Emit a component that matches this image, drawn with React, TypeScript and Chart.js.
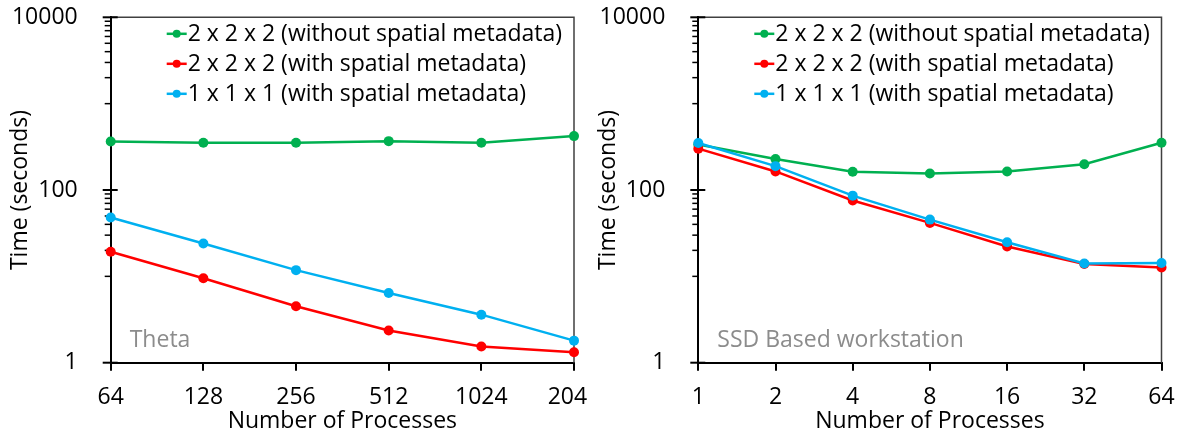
import React, { useEffect, useRef } from 'react';
import { Chart, registerables } from 'chart.js';

Chart.register(...registerables);

const FONT = "'Open Sans', 'Noto Sans', sans-serif";

const seriesLabels = [
  '2 x 2 x 2 (without spatial metadata)',
  '2 x 2 x 2 (with spatial metadata)',
  '1 x 1 x 1 (with spatial metadata)',
];
const seriesColors = ['#00b050', '#ff0000', '#00b0f0'];

// Theta
const thetaProcesses = ['64', '128', '256', '512', '1024', '2048'];
const thetaNoMeta222 = [365, 353, 353, 368, 353, 421];
const thetaMeta222 = [19.3, 9.5, 4.5, 2.36, 1.54, 1.32];
const thetaMeta111 = [48, 24, 11.8, 6.4, 3.6, 1.8];

// SSD based workstation
const ssdProcesses = ['1', '2', '4', '8', '16', '32', '64'];
const ssdNoMeta222 = [337, 228, 163, 155, 164, 199, 353];
const ssdMeta222 = [301, 164, 75.5, 41.6, 22.2, 13.9, 12.7];
const ssdMeta111 = [350, 189, 86, 45.4, 24.8, 14.1, 14.3];

const yMajorTicks = [1, 100, 10000];
const yMinorTicks = [10, 20, 30, 40, 50, 60, 70, 80, 90, 1000, 2000, 3000, 4000, 5000, 6000, 7000, 8000, 9000];

const xTitle = 'Number of Processes';
const yTitle = 'Time (seconds)';

const decorPlugin = {
  id: 'decor',
  beforeDatasetsDraw(chart: any) {
    const { ctx, chartArea: a, scales } = chart;
    const y = scales.y;
    ctx.save();
    ctx.strokeStyle = '#404040';
    ctx.lineWidth = 1.5;
    ctx.beginPath();
    ctx.moveTo(a.left, a.top);
    ctx.lineTo(a.right, a.top);
    ctx.lineTo(a.right, a.bottom);
    ctx.stroke();
    ctx.strokeStyle = '#000';
    ctx.lineWidth = 1.5;
    for (const v of yMinorTicks) {
      const py = y.getPixelForValue(v);
      ctx.beginPath();
      ctx.moveTo(a.left - 6, py);
      ctx.lineTo(a.left, py);
      ctx.stroke();
    }
    ctx.lineWidth = 2;
    for (const v of yMajorTicks) {
      const py = y.getPixelForValue(v);
      ctx.beginPath();
      ctx.moveTo(a.left - 8, py);
      ctx.lineTo(a.left + 7, py);
      ctx.stroke();
    }
    ctx.restore();
  },
  afterDraw(chart: any, _args: any, opts: any) {
    const { ctx, chartArea: a } = chart;
    ctx.save();
    ctx.textBaseline = 'middle';
    ctx.textAlign = 'left';
    ctx.font = `23px ${FONT}`;
    ctx.fillStyle = '#8c8c8c';
    ctx.fillText(opts.note, a.left + 19, a.bottom - 22);
    ctx.font = `23px ${FONT}`;
    chart.data.datasets.forEach((ds: any, i: number) => {
      const ty = a.top + 16.5 + i * 30;
      const tx = a.left + 77;
      ctx.strokeStyle = ds.borderColor;
      ctx.lineWidth = 2.5;
      ctx.beginPath();
      ctx.moveTo(tx - 21, ty);
      ctx.lineTo(tx - 1, ty);
      ctx.stroke();
      ctx.fillStyle = ds.borderColor;
      ctx.beginPath();
      ctx.arc(tx - 11, ty, 4, 0, Math.PI * 2);
      ctx.fill();
      ctx.fillStyle = '#000';
      ctx.fillText(ds.label, tx, ty + 1);
    });
    ctx.restore();
  },
};

function makeDataset(label: string, color: string, data: number[], order: number) {
  return {
    label,
    data,
    borderColor: color,
    backgroundColor: color,
    borderWidth: 2.5,
    pointRadius: 5,
    pointBackgroundColor: color,
    pointBorderColor: color,
    pointBorderWidth: 0,
    tension: 0,
    clip: false as any,
    order,
  };
}

type PanelProps = {
  labels: string[];
  series: number[][];
  note: string;
  left: number;
  width: number;
  yW: number;
  padRight: number;
  z: number;
};

function Panel({ labels, series, note, left, width, yW, padRight, z }: PanelProps) {
  const ref = useRef<HTMLCanvasElement>(null);
  useEffect(() => {
    const chart = new Chart(ref.current as HTMLCanvasElement, {
      type: 'line',
      data: {
        labels,
        datasets: [
          makeDataset(seriesLabels[0], seriesColors[0], series[0], 3),
          makeDataset(seriesLabels[1], seriesColors[1], series[1], 2),
          makeDataset(seriesLabels[2], seriesColors[2], series[2], 1),
        ],
      },
      options: {
        responsive: false,
        animation: false,
        devicePixelRatio: 1,
        layout: { padding: { left: 0, top: 17.3, right: padRight, bottom: 0 } },
        plugins: {
          legend: { display: false },
          tooltip: { enabled: false },
          decor: { note },
        } as any,
        scales: {
          x: {
            type: 'category',
            offset: false,
            grid: {
              display: true,
              drawOnChartArea: false,
              drawTicks: true,
              tickLength: 8,
              color: '#000',
              lineWidth: 2,
            },
            border: { display: true, color: '#000', width: 2 },
            ticks: {
              font: { family: FONT, size: 23 },
              color: '#000',
              padding: 13,
              maxRotation: 0,
              autoSkip: false,
            },
            title: {
              display: true,
              text: xTitle,
              font: { family: FONT, size: 23 },
              color: '#000',
              padding: { top: 0, bottom: 1 },
            },
            afterFit: (s: any) => {
              s.height = 73.3;
              s.paddingLeft = 0;
              s.paddingRight = 0;
            },
          },
          y: {
            type: 'logarithmic',
            min: 1,
            max: 10000,
            grid: { display: false },
            border: { display: true, color: '#000', width: 2 },
            ticks: {
              font: { family: FONT, size: 23 },
              color: '#000',
              padding: 25,
              callback: (v: any) => String(v),
            },
            afterBuildTicks: (s: any) => {
              s.ticks = yMajorTicks.map((v) => ({ value: v }));
            },
            title: {
              display: true,
              text: yTitle,
              font: { family: FONT, size: 23 },
              color: '#000',
              padding: { top: 7, bottom: 0 },
            },
            afterFit: (s: any) => {
              s.width = yW;
              s.paddingTop = 0;
              s.paddingBottom = 0;
            },
          },
        },
      } as any,
      plugins: [decorPlugin as any],
    });
    return () => chart.destroy();
  }, []);
  return (
    <canvas
      ref={ref}
      width={width}
      height={436}
      style={{ position: 'absolute', left, top: 0, width, height: 436, background: '#fff', zIndex: z }}
    />
  );
}

export default function App() {
  return (
    <div style={{ position: 'fixed', left: 0, top: 0, width: 1179, height: 436, background: '#fff', overflow: 'hidden' }}>
      <Panel
        labels={thetaProcesses}
        series={[thetaNoMeta222, thetaMeta222, thetaMeta111]}
        note="Theta"
        left={0}
        width={640}
        yW={110.7}
        padRight={66}
        z={0}
      />
      <Panel
        labels={ssdProcesses}
        series={[ssdNoMeta222, ssdMeta222, ssdMeta111]}
        note="SSD Based workstation"
        left={588}
        width={591}
        yW={110.3}
        padRight={17.5}
        z={1}
      />
    </div>
  );
}
